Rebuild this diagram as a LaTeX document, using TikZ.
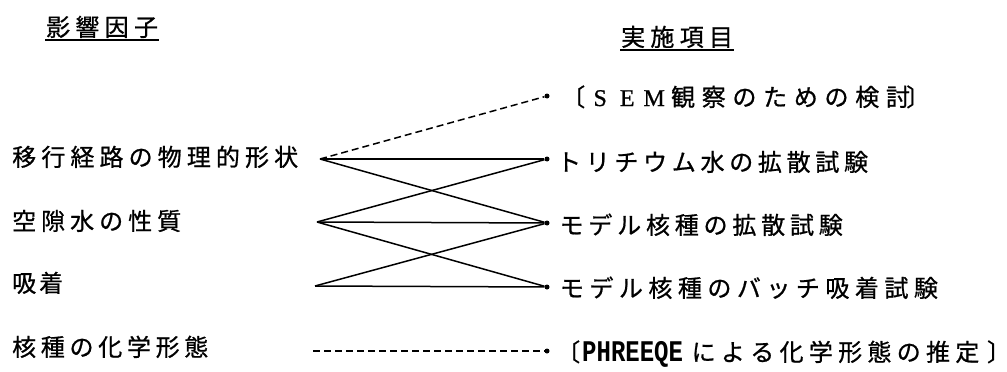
\documentclass[tikz,border=0pt]{standalone}
\usepackage{fontspec}
\usepackage{graphicx}
\usetikzlibrary{calc}
\setmainfont{Noto Sans CJK JP}
\newfontfamily\jpf[FakeBold=0.8]{Noto Sans CJK JP}
\newfontfamily\jphalt[FakeBold=0.8,RawFeature=+halt]{Noto Sans CJK JP}
\newfontfamily\monof{Liberation Mono}
\newfontfamily\serf[FakeBold=0.8]{Liberation Serif}
\makeatletter
\newcommand\spc[2]{\@tfor\my@c:=#2\do{\makebox[#1][c]{\my@c}}}
\makeatother
\begin{document}
\begin{tikzpicture}[x=1pt,y=-1pt,
  lab/.style={anchor=west, inner sep=0pt, text height=20pt, text depth=2pt,
              font=\jpf\fontsize{24pt}{28pt}\selectfont},
  dot/.style={circle, fill, inner sep=0pt, minimum size=5pt},
  conn/.style={line width=1.5pt, line join=round},
  dconn/.style={line width=1.5pt, dash pattern=on 7pt off 4pt},
  uline/.style={line width=2pt}]
\useasboundingbox (0,0) rectangle (1007,372);

% headers
\node[lab] (h1) at (43.3,27) {\spc{29.3pt}{影響因子}};
\node[lab] (h2) at (618.3,37) {\spc{29.3pt}{実施項目}};
\draw[uline] ($(h1.south west)+(2,2)$) -- ($(h1.south east)+(-2,2)$);
\draw[uline] ($(h2.south west)+(2,2)$) -- ($(h2.south east)+(-2,2)$);

% left factors
\node[lab] (f1) at (9.5,157) {\spc{29.1pt}{移行経路の物理的形状}};
\node[lab] (f2) at (9.5,221) {\spc{29pt}{空隙水の性質}};
\node[lab] (f3) at (10.5,283) {\spc{27pt}{吸着}};
\node[lab] (f4) at (9.6,347) {\spc{28.7pt}{核種の化学形態}};

\coordinate (a1) at (320,159);
\coordinate (a2) at (317,222);
\coordinate (a3) at (315,286);
\coordinate (a4) at (313,351);

% right dots
\node[dot] (r1) at (547,96) {};
\node[dot] (r2) at (547,159) {};
\node[dot] (r3) at (547,223) {};
\node[dot] (r4) at (547,287) {};
\node[dot] (r5) at (547,351) {};

% right items
\node[lab] (t1) at (559.5,97) {\spc{27pt}{〔}\makebox[27pt]{\serf S}\makebox[27pt]{\serf E}\makebox[27pt]{\serf M}\spc{30.7pt}{観察のための検討}\hspace{-7pt}〕};
\node[lab] (t2) at (554.5,162) {\spc{28.7pt}{トリチウム水の拡散試験}};
\node[lab] (t3) at (557,225) {\spc{28.8pt}{モデル核種の拡散試験}};
\node[lab] (t4) at (557,288) {\spc{29.5pt}{モデル核種のバッチ吸着試験}};
\node[lab] (t5) at (554,352) {\spc{28pt}{〔}\scalebox{0.8}[1]{\monof\bfseries\fontsize{30pt}{30pt}\selectfont PHREEQE}\hspace{6pt}\spc{29.3pt}{による化学形態の推定}\hspace{5pt}{\jphalt 〕}};

% connectors
\draw[dconn] (a1) -- (r1);
\draw[conn] (a1) -- (r2);
\draw[conn] (a1) -- (r3);
\draw[conn] (a2) -- (r2);
\draw[conn] (a2) -- (r3);
\draw[conn] (a2) -- (r4);
\draw[conn] (a3) -- (r3);
\draw[conn] (a3) -- (r4);
\draw[dconn] (a4) -- (r5);
\end{tikzpicture}
\end{document}
